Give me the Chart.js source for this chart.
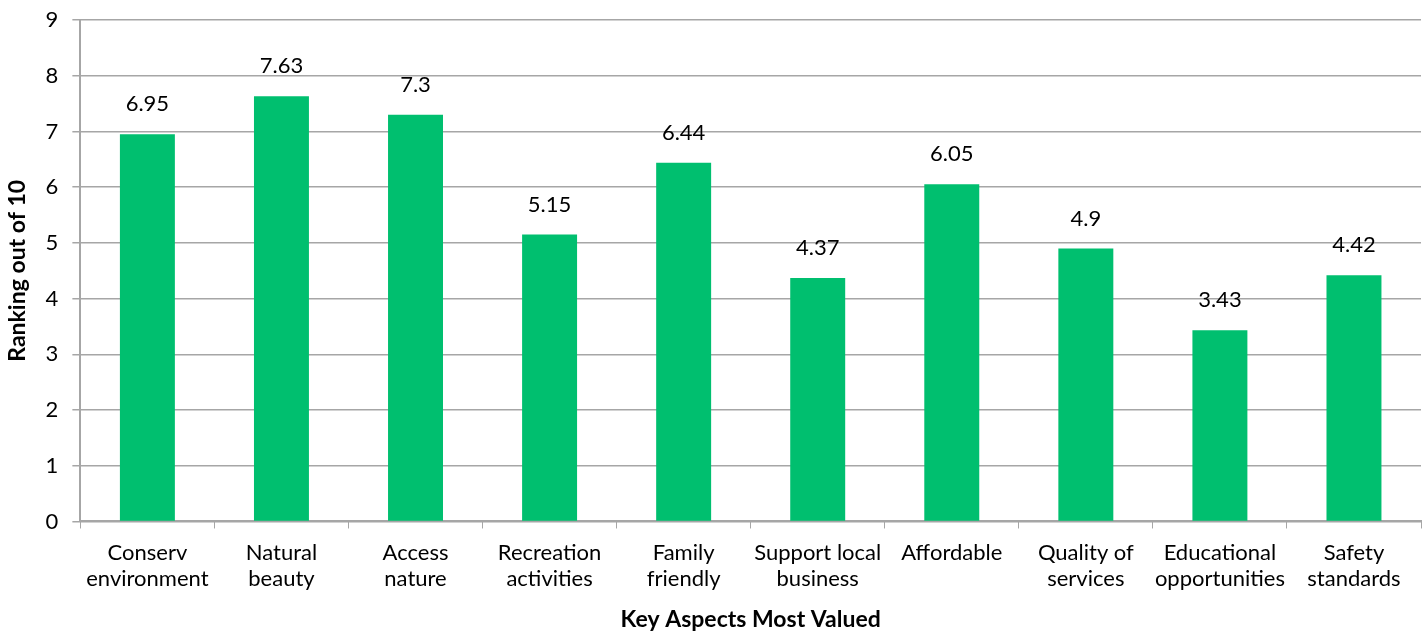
<!DOCTYPE html>
<html>
<head>
<meta charset="utf-8">
<script src="https://cdn.jsdelivr.net/npm/chart.js@4/dist/chart.umd.min.js"></script>
<style>
  html, body { margin: 0; padding: 0; background: #fff; }
  #wrap { width: 1428px; height: 633px; position: relative; }
</style>
</head>
<body>
<div id="wrap"><canvas id="chart"></canvas></div>
<script>
const categories = [
  ['Conserv', 'environment'],
  ['Natural', 'beauty'],
  ['Access', 'nature'],
  ['Recreation', 'activities'],
  ['Family', 'friendly'],
  ['Support local', 'business'],
  ['Affordable'],
  ['Quality of', 'services'],
  ['Educational', 'opportunities'],
  ['Safety', 'standards']
];
const rankings = [6.95, 7.63, 7.3, 5.15, 6.44, 4.37, 6.05, 4.9, 3.43, 4.42];
const yTitle = 'Ranking out of 10';
const xTitle = 'Key Aspects Most Valued';

const FONT = "Lato, 'Open Sans', sans-serif";
const BAR_COLOR = '#00BF6F';
const GRID = '#a6a6a6';

// etiquetes de valor damunt de cada barra
const valueLabels = {
  id: 'valueLabels',
  afterDatasetsDraw(chart) {
    const { ctx } = chart;
    const meta = chart.getDatasetMeta(0);
    ctx.save();
    ctx.font = `22px ${FONT}`;
    ctx.fillStyle = '#000';
    ctx.textAlign = 'center';
    ctx.textBaseline = 'middle';
    meta.data.forEach((bar, i) => {
      ctx.fillText(String(rankings[i]), bar.x, bar.y - 30);
    });
    ctx.restore();
  }
};

new Chart(document.getElementById('chart').getContext('2d'), {
  type: 'bar',
  data: {
    labels: categories,
    datasets: [{
      data: rankings,
      backgroundColor: BAR_COLOR,
      categoryPercentage: 1,
      barPercentage: 0.41
    }]
  },
  options: {
    responsive: true,
    maintainAspectRatio: false,
    animation: false,
    layout: { padding: { top: 20, right: 7, left: 4, bottom: 0 } },
    plugins: {
      legend: { display: false },
      tooltip: { enabled: false }
    },
    scales: {
      x: {
        grid: {
          offset: true,
          drawOnChartArea: false,
          drawTicks: true,
          tickLength: 7,
          color: GRID
        },
        border: { color: GRID, width: 2 },
        ticks: {
          color: '#000',
          font: { family: FONT, size: 22, lineHeight: 1.18 },
          padding: 11,
          maxRotation: 0,
          autoSkip: false
        },
        title: {
          display: true,
          text: xTitle,
          color: '#000',
          font: { family: FONT, size: 23, weight: 'bold' },
          padding: { top: 3, bottom: 0 }
        }
      },
      y: {
        min: 0,
        max: 9,
        afterFit(scale) {
          scale.paddingTop = 0;
        },
        ticks: {
          stepSize: 1,
          color: '#000',
          font: { family: FONT, size: 22 },
          padding: 14
        },
        grid: {
          color: GRID,
          lineWidth: 1.5,
          tickLength: 8
        },
        border: { color: GRID, width: 2 },
        title: {
          display: true,
          text: yTitle,
          color: '#000',
          font: { family: FONT, size: 23, weight: 'bold' },
          padding: { top: 0, bottom: 0 }
        }
      }
    }
  },
  plugins: [valueLabels]
});
</script>
</body>
</html>
